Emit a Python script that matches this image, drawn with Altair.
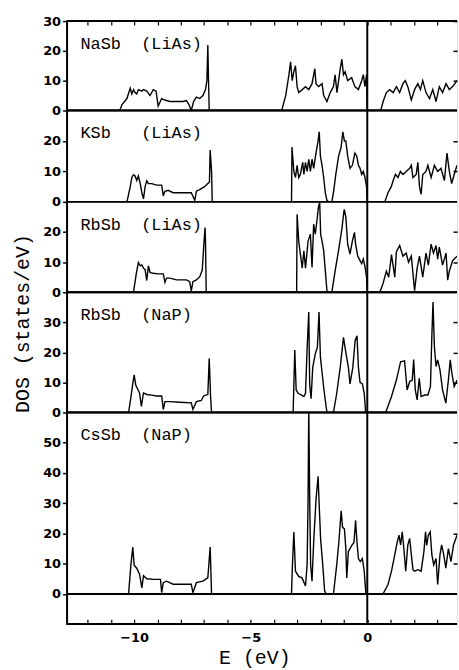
import altair as alt
import pandas as pd

# ---------------- data (E in eV, DOS in states/eV) ----------------
nasb_liAs = [
    (-12.9, 0), (-10.62, 0), (-10.52, 2), (-10.31, 4), (-10.17, 7.5), (-10.10, 5.5), (-10.03, 7),
    (-9.96, 6), (-9.89, 5.5), (-9.82, 7), (-9.67, 6.5), (-9.60, 7), (-9.46, 6.5), (-9.32, 5),
    (-9.18, 7), (-9.06, 6.5), (-8.97, 1.5), (-8.82, 4), (-8.68, 3.5), (-8.47, 3), (-8.18, 3),
    (-7.90, 3), (-7.76, 3.3), (-7.65, 2), (-7.55, 0), (-7.45, 3), (-7.33, 4.5), (-7.19, 4),
    (-7.05, 5), (-6.94, 7), (-6.88, 10), (-6.84, 22), (-6.81, 10), (-6.78, 0),
    (-3.67, 0), (-3.50, 5), (-3.36, 12), (-3.29, 16.3), (-3.22, 10), (-3.15, 13), (-3.08, 15),
    (-3.01, 8), (-2.94, 6), (-2.79, 7), (-2.65, 8), (-2.51, 7), (-2.37, 9), (-2.25, 14),
    (-2.20, 9), (-2.09, 8), (-1.94, 9), (-1.87, 5), (-1.73, 3), (-1.59, 6), (-1.45, 8),
    (-1.38, 12), (-1.30, 6), (-1.23, 10), (-1.16, 14), (-1.09, 17.2), (-1.02, 12), (-0.95, 13),
    (-0.84, 10), (-0.67, 11), (-0.53, 8), (-0.38, 7), (-0.24, 10), (-0.17, 12), (-0.10, 8),
    (-0.03, 12), (0.0, 0),
    (0.58, 0), (0.68, 3), (0.82, 6), (0.96, 7), (1.11, 6), (1.25, 8), (1.39, 6), (1.53, 9),
    (1.63, 10), (1.74, 8), (1.89, 3.5), (2.03, 7), (2.17, 9), (2.28, 7), (2.38, 10), (2.52, 6),
    (2.67, 4), (2.81, 7), (2.95, 3), (3.09, 8), (3.23, 6), (3.38, 9), (3.52, 7), (3.66, 8),
    (3.85, 10),
]

ksb_liAs = [
    (-12.9, 0), (-10.31, 0), (-10.17, 4.9), (-10.10, 8), (-10.03, 8.9), (-9.96, 8.5), (-9.89, 7),
    (-9.82, 8.5), (-9.74, 6), (-9.67, 3), (-9.60, 1), (-9.53, 5), (-9.46, 6.9), (-9.39, 6),
    (-9.25, 6), (-9.04, 5.5), (-8.82, 5.5), (-8.75, 2), (-8.68, 3.5), (-8.54, 3.8), (-8.33, 3),
    (-7.90, 3), (-7.55, 3), (-7.40, 0.5), (-7.33, 3.5), (-7.19, 4), (-6.98, 5), (-6.84, 6),
    (-6.77, 6.5), (-6.74, 17), (-6.68, 10), (-6.65, 0),
    (-3.25, 0), (-3.23, 18), (-3.15, 10), (-3.08, 8), (-3.01, 12), (-2.94, 8), (-2.87, 9),
    (-2.77, 13), (-2.72, 9), (-2.65, 13), (-2.58, 10), (-2.51, 14), (-2.44, 10), (-2.37, 14),
    (-2.30, 11), (-2.20, 16), (-2.11, 20), (-2.06, 23), (-2.01, 15), (-1.94, 12), (-1.87, 8),
    (-1.80, 3), (-1.73, 0.5), (-1.66, 0), (-1.52, 0), (-1.45, 3), (-1.35, 9), (-1.23, 15),
    (-1.12, 18), (-1.05, 23), (-0.98, 20), (-0.92, 20), (-0.84, 15), (-0.74, 11), (-0.64, 12),
    (-0.53, 16), (-0.45, 15), (-0.38, 12), (-0.31, 11), (-0.24, 9), (-0.17, 10), (-0.10, 8),
    (-0.03, 5), (0.0, 0),
    (0.75, 0), (0.89, 3), (1.03, 5), (1.11, 7), (1.21, 9), (1.32, 8), (1.42, 10), (1.53, 9),
    (1.67, 10), (1.82, 11), (1.89, 12), (1.96, 8), (2.10, 9), (2.17, 13), (2.24, 5), (2.31, 2.5),
    (2.38, 9), (2.52, 10), (2.60, 12), (2.74, 8), (2.88, 12), (3.02, 10), (3.16, 11), (3.31, 7),
    (3.42, 16), (3.52, 10), (3.62, 6), (3.73, 9), (3.85, 12),
]

rbsb_liAs = [
    (-12.9, 0), (-10.03, 0), (-9.91, 6.1), (-9.82, 9.9), (-9.74, 8.8), (-9.67, 9.1), (-9.60, 8),
    (-9.53, 7.5), (-9.46, 3.9), (-9.39, 8.8), (-9.32, 6.6), (-9.18, 6.3), (-8.97, 6.1),
    (-8.75, 6.1), (-8.68, 3.3), (-8.61, 4.7), (-8.47, 4.7), (-8.18, 4.1), (-7.76, 4.1),
    (-7.62, 3.5), (-7.55, 0.5), (-7.48, 3.5), (-7.33, 4.1), (-7.19, 5.1), (-7.08, 7.3),
    (-7.02, 14.8), (-6.96, 21.5), (-6.94, 17), (-6.91, 0),
    (-3.03, 0), (-3.01, 25.9), (-2.94, 17), (-2.87, 12.7), (-2.79, 8), (-2.72, 13.8), (-2.65, 8),
    (-2.54, 17), (-2.44, 19.3), (-2.37, 8.2), (-2.30, 22.6), (-2.23, 19.3), (-2.16, 23.7),
    (-2.09, 28.6), (-2.04, 29.7), (-2.00, 19.3), (-1.94, 17), (-1.87, 13.8), (-1.80, 7.2),
    (-1.73, 0.5), (-1.66, 0), (-1.52, 0), (-1.38, 7), (-1.23, 14), (-1.09, 21), (-0.99, 27.5),
    (-0.92, 25), (-0.84, 16), (-0.74, 12.7), (-0.64, 17), (-0.55, 19.9), (-0.50, 16),
    (-0.41, 12), (-0.31, 10.5), (-0.24, 9.5), (-0.17, 11), (-0.10, 8.5), (-0.03, 5), (0.0, 0),
    (0.54, 0), (0.68, 3), (0.82, 7), (0.92, 5), (1.04, 12.5), (1.18, 5), (1.25, 13.5),
    (1.39, 15.5), (1.53, 12), (1.67, 13), (1.77, 10), (1.89, 12), (2.03, 0.5), (2.14, 8),
    (2.24, 12), (2.38, 5), (2.52, 13), (2.62, 9), (2.74, 16), (2.84, 13), (2.95, 15.5),
    (3.02, 11), (3.09, 15), (3.23, 9), (3.38, 13), (3.45, 4), (3.52, 7), (3.66, 10.5), (3.85, 12),
]

rbsb_naP = [
    (-12.9, 0), (-10.24, 0), (-10.14, 5), (-10.07, 9), (-10.00, 12.5), (-9.93, 9), (-9.86, 8),
    (-9.77, 6.5), (-9.69, 2), (-9.60, 6.5), (-9.46, 6), (-9.24, 5.8), (-9.04, 5.5), (-8.82, 5.5),
    (-8.75, 1), (-8.68, 3.6), (-8.47, 3.6), (-8.04, 3.4), (-7.55, 3.2), (-7.48, 1), (-7.33, 3.6),
    (-7.12, 4), (-7.02, 5.5), (-6.84, 6), (-6.78, 18), (-6.72, 5), (-6.68, 0),
    (-3.18, 0), (-3.11, 20.8), (-3.05, 7.5), (-2.97, 6.4), (-2.82, 5.8), (-2.72, 5.3),
    (-2.65, 6.4), (-2.58, 21.3), (-2.51, 33.4), (-2.47, 9.3), (-2.41, 4.6), (-2.34, 15),
    (-2.23, 19.5), (-2.14, 21.7), (-2.07, 33.4), (-2.01, 18.4), (-1.94, 13.4), (-1.87, 8.4),
    (-1.80, 4), (-1.73, 0), (-1.45, 0), (-1.31, 6.4), (-1.16, 15), (-1.02, 25), (-0.92, 20),
    (-0.81, 15), (-0.74, 9.5), (-0.62, 15), (-0.52, 24), (-0.44, 25.5), (-0.38, 15),
    (-0.31, 10), (-0.21, 9.5), (-0.13, 6.4), (-0.07, 0),
    (0.79, 0), (1.04, 5.3), (1.25, 10.8), (1.43, 16.9), (1.60, 17.2), (1.71, 7.5), (1.82, 10.3),
    (1.93, 10.8), (1.99, 17.6), (2.06, 7.5), (2.14, 4.2), (2.23, 11.4), (2.31, 5.3), (2.46, 5.8),
    (2.60, 5.8), (2.71, 8.6), (2.77, 25.2), (2.82, 36.8), (2.88, 21.9), (2.95, 15.3),
    (3.02, 17.5), (3.12, 14.2), (3.23, 7.5), (3.37, 3.1), (3.48, 10.8), (3.56, 17.5),
    (3.63, 13), (3.73, 8.6), (3.85, 10.8),
]

cssb_naP = [
    (-12.9, 0), (-10.24, 0), (-10.14, 9.5), (-10.06, 15.5), (-10.00, 9.5), (-9.89, 8.5),
    (-9.77, 6.5), (-9.67, 2), (-9.60, 6), (-9.46, 5), (-9.18, 4.8), (-8.87, 4.8), (-8.82, 0.4),
    (-8.75, 3.7), (-8.61, 4.2), (-8.33, 3.2), (-7.55, 3.2), (-7.48, 0.4), (-7.33, 3.7),
    (-7.05, 4.2), (-6.84, 5.3), (-6.74, 15.5), (-6.68, 0),
    (-3.25, 0), (-3.22, 7.5), (-3.15, 20.5), (-3.08, 7.5), (-2.94, 5.8), (-2.80, 5.3),
    (-2.65, 2.6), (-2.58, 9.6), (-2.54, 31), (-2.51, 62), (-2.47, 31), (-2.43, 9.6),
    (-2.37, 4.2), (-2.30, 17), (-2.20, 31), (-2.11, 38.9), (-2.06, 29), (-2.00, 18),
    (-1.91, 9.6), (-1.83, 1), (-1.77, 0), (-1.45, 0), (-1.31, 9.6), (-1.21, 18), (-1.12, 27.5),
    (-1.06, 22), (-0.98, 21.5), (-0.92, 15), (-0.88, 5.3), (-0.81, 14), (-0.67, 16),
    (-0.57, 17), (-0.50, 24.3), (-0.44, 17), (-0.38, 11.7), (-0.30, 10.7), (-0.21, 11.7),
    (-0.13, 7.5), (-0.06, 0),
    (0.68, 0), (0.89, 3.1), (1.04, 7.5), (1.18, 13), (1.29, 17.3), (1.36, 19.4), (1.43, 16.2),
    (1.50, 20.5), (1.57, 15), (1.65, 7.5), (1.74, 16.2), (1.82, 18.3), (1.89, 13), (1.96, 8),
    (2.03, 7.5), (2.17, 8), (2.31, 7.5), (2.43, 14), (2.50, 20.5), (2.55, 16), (2.62, 19.4),
    (2.70, 20.5), (2.77, 13), (2.85, 9.6), (2.95, 11.7), (3.02, 3.1), (3.12, 13), (3.19, 16.2),
    (3.28, 13), (3.37, 8.5), (3.48, 15), (3.59, 10.7), (3.70, 16.2), (3.85, 19.4),
]

series = [nasb_liAs, ksb_liAs, rbsb_liAs, rbsb_naP, cssb_naP]
panel_labels = ["NaSb\u00a0\u00a0(LiAs)", "KSb\u00a0\u00a0\u00a0(LiAs)", "RbSb\u00a0\u00a0(LiAs)",
                "RbSb\u00a0\u00a0(NaP)", "CsSb\u00a0\u00a0(NaP)"]
y_domains = [[0, 30], [0, 30], [0, 30], [0, 40], [-10, 60]]
y_ticks = [[0, 10, 20, 30], [0, 10, 20], [0, 10, 20], [0, 10, 20, 30], [0, 10, 20, 30, 40, 50]]
x_domain = [-12.9, 3.85]
x_ticks = list(range(-12, 4))

# ---------------- layout ----------------
W = 393
heights = [90, 92, 91, 121, 213]
LABEL_FONT = "DejaVu Sans"
MONO = "Liberation Mono"


def hrule(ypix):
    return alt.Chart(pd.DataFrame({"t": [0]})).mark_rule(color="black", strokeWidth=2).encode(
        x=alt.value(0), x2=alt.value(W), y=alt.value(ypix))


def make_panel(i):
    df = pd.DataFrame(series[i], columns=["E", "DOS"])
    xs = alt.Scale(domain=x_domain, nice=False, zero=False)
    ys = alt.Scale(domain=y_domains[i], nice=False, zero=False)

    left_kw = dict(
        values=y_ticks[i], orient="left", tickSize=4, tickWidth=1.5, tickColor="black",
        domainWidth=2, domainColor="black", labelFont=LABEL_FONT, labelFontWeight="bold",
        labelFontSize=13, labelColor="black", labelPadding=2, labelFlush=False,
        labelOverlap=False, grid=False,
    )
    if i == 2:
        left_kw.update(title="DOS (states/eV)", titleFont=MONO, titleFontSize=20,
                       titleFontWeight="normal", titleColor="black", titleX=-44, titleY=122,
                       titleAngle=270, titleAlign="center", titleBaseline="middle")
    else:
        left_kw.update(title=None)

    line = alt.Chart(df).mark_line(color="black", strokeWidth=1.4, clip=True).encode(
        x=alt.X("E:Q", scale=xs, axis=None),
        y=alt.Y("DOS:Q", scale=ys, axis=alt.Axis(**left_kw)),
        order="E:Q",
    )

    right_axis = alt.Axis(
        orient="right", values=[v for v in y_ticks[i] if v != 0], labels=False, domain=False,
        tickSize=4, offset=-4, tickColor="black", tickWidth=1.5, title=None, grid=False,
    )
    zero = alt.Chart(pd.DataFrame({"DOS": [0]})).mark_rule(color="black", strokeWidth=2).encode(
        y=alt.Y("DOS:Q", scale=ys, axis=right_axis)
    )

    if i == 0:
        x_axis = alt.Axis(orient="top", values=x_ticks, labels=False, domain=False, tickSize=4,
                          offset=-4, tickColor="black", tickWidth=1.2, title=None, grid=False)
    elif i == len(series) - 1:
        x_axis = alt.Axis(
            orient="bottom", values=x_ticks, domain=False, tickSize=5, offset=-5,
            tickColor="black", tickWidth=1.2, grid=False,
            labelExpr="datum.value % 5 == 0 ? datum.label : ''",
            labelFont=LABEL_FONT, labelFontWeight="bold", labelFontSize=13, labelColor="black",
            labelPadding=7, labelFlush=False, labelOverlap=False,
            title="E (eV)", titleFont=MONO, titleFontSize=20, titleFontWeight="normal",
            titleColor="black", titleX=189, titleY=45, titleBaseline="alphabetic",
            titleAlign="center",
        )
    else:
        x_axis = None
    vline = alt.Chart(pd.DataFrame({"E": [0]})).mark_rule(color="black", strokeWidth=2).encode(
        x=alt.X("E:Q", scale=xs, axis=x_axis)
    )

    txt = alt.Chart(pd.DataFrame({"t": [panel_labels[i]]})).mark_text(
        align="left", baseline="alphabetic", font=MONO, fontSize=17, color="black"
    ).encode(x=alt.value(14), y=alt.value(28), text="t:N")

    layers = [line, zero, vline, txt, hrule(0)]
    if i == len(series) - 1:
        layers.append(hrule(heights[i]))
    return alt.layer(*layers).resolve_axis(y="independent", x="independent").properties(
        width=W, height=heights[i]
    )


chart = alt.vconcat(*[make_panel(i) for i in range(len(series))], spacing=0, bounds="flush")
chart = chart.properties(
    padding={"left": 12, "top": 12, "right": 0, "bottom": 0}
).configure_view(stroke=None).configure(background="white")

chart.save("out.html", embed_options={"renderer": "svg", "actions": False})
